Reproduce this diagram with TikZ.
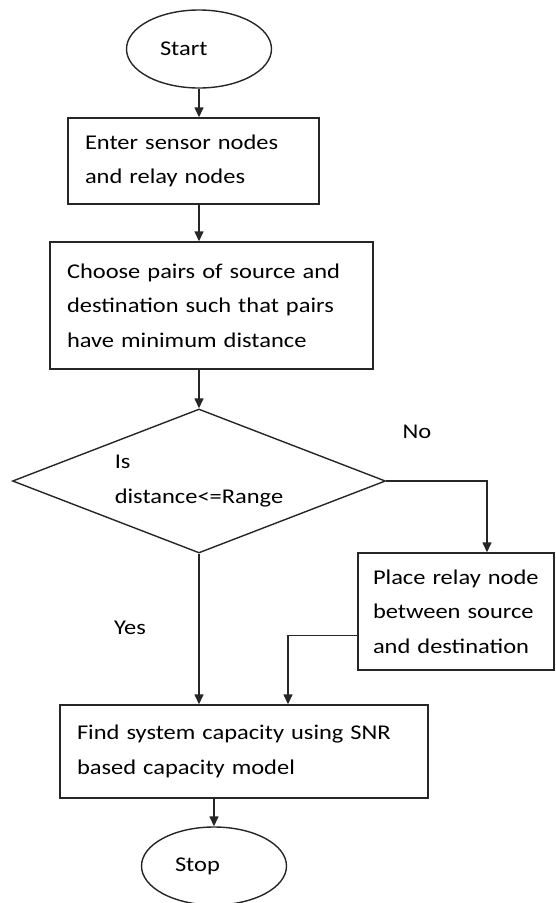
\documentclass[tikz,border=0pt]{standalone}
\usepackage{fontspec}
\setmainfont{Carlito}[FakeStretch=1.165]
\usepackage{tikz}
\usetikzlibrary{shapes,arrows.meta,positioning}

\begin{document}
\begin{tikzpicture}[x=1pt, y=-1pt, font=\fontsize{21}{34.5}\selectfont]
			\tikzstyle{Line}		= [line width=1.4pt, draw=black!85]
			\tikzstyle{Terminal}	= [ellipse, Line, minimum width=145pt, minimum height=78pt, inner sep=0pt, text width=78pt, align=left]
			\tikzstyle{Process}		= [rectangle, Line, inner xsep=17pt, inner ysep=0pt, align=left]
			\tikzstyle{Decision}	= [diamond, Line, aspect=2.6, minimum width=373pt, minimum height=144pt, inner sep=0pt, align=left]
			\tikzstyle{Flow}		= [Line, -{Triangle[length=10pt, width=9pt]}]
			\tikzstyle{Label}		= [inner sep=0pt]

			\useasboundingbox (0,0) rectangle (555,903);

			\node (t0) at (199,49) [Terminal] {Start};
			\node (p1) at (193.5,161) [Process, text width=217pt, minimum height=86pt] {Enter sensor nodes\\and relay nodes};
			\node (p2) at (211.5,305.5) [Process, text width=289pt, minimum height=127pt] {Choose pairs of source and\\destination such that pairs\\have minimum distance};
			\node (d1) at (199,481) [Decision] {Is\\distance<=Range};
			\node (p3) at (456,611.5) [Process, inner xsep=15pt, text width=166pt, minimum height=117pt] {Place relay node\\between source\\and destination};
			\node (p4) at (244,751.5) [Process, text width=334pt, minimum height=93pt] {Find system capacity using SNR\\based capacity model};
			\node (t1) at (214,866) [Terminal] {Stop};
			\node (l1) at (417,432) [Label] {No};
			\node (l2) at (130,628) [Label] {Yes};

			\draw [Flow] (t0.south) -- (t0.south |- p1.north);
			\draw [Flow] (p1.south -| t0.south) -- (p2.north -| t0.south);
			\draw [Flow] (p2.south -| d1.north) -- (d1.north);
			\draw [Flow] (d1.east) -| ([xshift=31pt]p3.north);
			\draw [Flow] (d1.south) -- (d1.south |- p4.north);
			\draw [Flow] ([yshift=-24pt]p3.west) -| ([xshift=44pt]p4.north);
			\draw [Flow] (p4.south -| t1.north) -- (t1.north);

\end{tikzpicture}
\end{document}
